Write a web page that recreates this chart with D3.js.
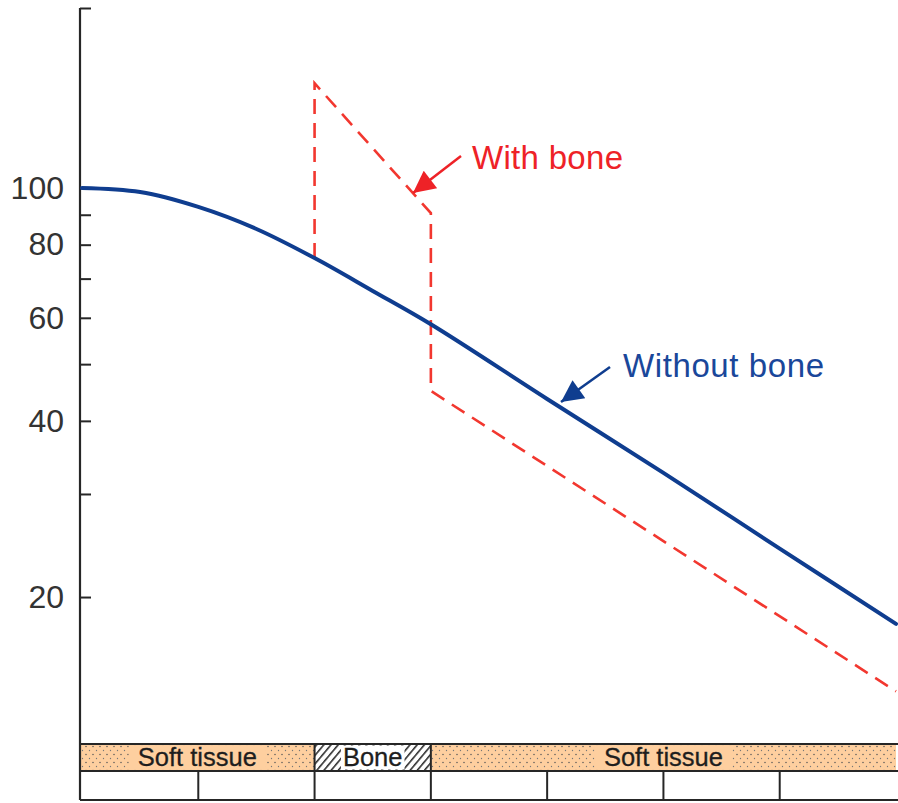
<!DOCTYPE html>
<html>
<head>
<meta charset="utf-8">
<script src="https://cdn.jsdelivr.net/npm/d3@7"></script>
<style>
  body { margin: 0; background: #fff; }
  text { font-family: "Liberation Sans", Arial, sans-serif; }
</style>
</head>
<body>
<script>
// depth in cm (x) and relative dose in % (y, log scale)
var depth = [0, 0.5, 1, 1.5, 2, 2.5, 3, 4, 5, 6, 7];
var withoutBone = [100, 98.4, 92.8, 85.1, 75.9, 66.7, 58.5, 43.6, 32.6, 24.2, 18.0];

// with bone: jumps up at the bone entry, drops at the exit
var boneDepth = [2, 2, 3, 3, 7];
var withBone = [75.9, 151, 90.6, 45.0, 13.8];

var majorTicks = [20, 40, 60, 80, 100];
var minorTicks = [30, 50, 70, 90];
var yTop = 203, yBottom = 9;

// tissue strip under the plot
var layers = [
  {from: 0, to: 2, name: "Soft tissue", type: "soft"},
  {from: 2, to: 3, name: "Bone", type: "bone"},
  {from: 3, to: 7, name: "Soft tissue", type: "soft"}
];
var cells = [0, 1, 2, 3, 4, 5, 6, 7];

var W = 898, H = 803;
var axisX = 80;
var blue = "#0f3d8f", red = "#f2372f";

var svg = d3.select("body").append("svg")
    .attr("width", W)
    .attr("height", H);

var x = d3.scaleLinear().domain([0, 7]).range([82, 896]);
var y = d3.scaleLog().domain([yBottom, yTop]).range([800, 8]);

var defs = svg.append("defs");

// dotted peach fill
var dots = defs.append("pattern")
    .attr("id", "dots")
    .attr("patternUnits", "userSpaceOnUse")
    .attr("width", 7).attr("height", 8);
dots.append("rect").attr("width", 7).attr("height", 8).attr("fill", "#fecf9f");
dots.append("circle").attr("cx", 2).attr("cy", 2.5).attr("r", 0.75).attr("fill", "#555");
dots.append("circle").attr("cx", 5.5).attr("cy", 6.5).attr("r", 0.65).attr("fill", "#777");

// hatch for bone
var hatch = defs.append("pattern")
    .attr("id", "hatch")
    .attr("patternUnits", "userSpaceOnUse")
    .attr("width", 5.5).attr("height", 5.5)
    .attr("patternTransform", "rotate(40)");
hatch.append("rect").attr("width", 5.5).attr("height", 5.5).attr("fill", "#fff");
hatch.append("line").attr("x1", 0.8).attr("y1", 0).attr("x2", 0.8).attr("y2", 5.5)
    .attr("stroke", "#222").attr("stroke-width", 1.5);

function arrowMarker(id, col) {
  defs.append("marker")
      .attr("id", id)
      .attr("viewBox", "0 0 10 10")
      .attr("refX", 10).attr("refY", 5)
      .attr("markerUnits", "userSpaceOnUse")
      .attr("markerWidth", 26).attr("markerHeight", 22)
      .attr("orient", "auto")
    .append("path").attr("d", "M0,0 L10,5 L0,10 Z").attr("fill", col);
}
arrowMarker("arrRed", "#ee2227");
arrowMarker("arrBlue", blue);

// tissue strip
var stripTop = 744, stripBot = 771, rowBot = 800;
var lineCol = "#262626";

var strip = svg.append("g");
strip.selectAll("rect.layer")
    .data(layers)
  .enter().append("rect")
    .attr("class", "layer")
    .attr("x", function(d) { return d.from === 0 ? axisX : x(d.from); })
    .attr("y", stripTop)
    .attr("width", function(d) { return x(d.to) - (d.from === 0 ? axisX : x(d.from)); })
    .attr("height", stripBot - stripTop)
    .attr("fill", function(d) { return d.type === "soft" ? "url(#dots)" : "url(#hatch)"; });

layers.forEach(function(d) {
  var cx = ((d.from === 0 ? axisX : x(d.from)) + x(d.to)) / 2;
  var bg = strip.append("rect");
  var t = strip.append("text")
      .attr("x", cx)
      .attr("y", stripTop + 22)
      .attr("text-anchor", "middle")
      .attr("font-size", 25.5)
      .attr("fill", "#1e1e1e")
      .attr("stroke", "#1e1e1e")
      .attr("stroke-width", 0.3)
      .text(d.name);
  var b = t.node().getBBox();
  var pad = d.type === "soft" ? 9 : 2;
  bg.attr("x", b.x - pad).attr("y", stripTop + 1.5)
    .attr("width", b.width + pad * 2).attr("height", stripBot - stripTop - 3)
    .attr("fill", d.type === "soft" ? "#fecf9f" : "#fff");
});

// bottom row of cells
strip.append("rect")
    .attr("x", axisX).attr("y", stripBot)
    .attr("width", W - axisX).attr("height", rowBot - stripBot)
    .attr("fill", "#fff");

[stripTop, stripBot, rowBot].forEach(function(yy) {
  strip.append("line")
      .attr("x1", axisX).attr("x2", W).attr("y1", yy).attr("y2", yy)
      .attr("stroke", lineCol).attr("stroke-width", 2);
});

strip.selectAll("line.cell")
    .data(cells.slice(1, 7))
  .enter().append("line")
    .attr("class", "cell")
    .attr("x1", function(d) { return x(d); })
    .attr("x2", function(d) { return x(d); })
    .attr("y1", stripBot).attr("y2", rowBot)
    .attr("stroke", lineCol).attr("stroke-width", 2);

strip.selectAll("line.bound")
    .data([2, 3])
  .enter().append("line")
    .attr("class", "bound")
    .attr("x1", function(d) { return x(d); })
    .attr("x2", function(d) { return x(d); })
    .attr("y1", stripTop).attr("y2", stripBot)
    .attr("stroke", lineCol).attr("stroke-width", 2);

// y axis, ticks pointing inward
var axisG = svg.append("g")
    .attr("transform", "translate(" + axisX + ",0)")
    .call(d3.axisLeft(y)
      .tickValues(majorTicks.concat(minorTicks).concat([yTop]))
      .tickSize(-11)
      .tickPadding(16)
      .tickFormat(function(d) { return majorTicks.indexOf(d) >= 0 ? d : ""; }));

axisG.select(".domain")
    .attr("d", "M0," + y(yTop) + "V" + rowBot)
    .attr("stroke", lineCol).attr("stroke-width", 2.2);
axisG.selectAll(".tick line").attr("stroke", lineCol).attr("stroke-width", 2);
axisG.selectAll(".tick text")
    .attr("font-size", 32)
    .attr("font-family", "'Liberation Sans', Arial, sans-serif")
    .attr("fill", "#333");

// curves
var blueLine = d3.line()
    .x(function(d, i) { return x(depth[i]); })
    .y(function(d) { return y(d); })
    .curve(d3.curveCatmullRom.alpha(0.5));

var redLine = d3.line()
    .x(function(d, i) { return x(boneDepth[i]); })
    .y(function(d) { return y(d); });

svg.append("path")
    .datum(withBone)
    .attr("fill", "none")
    .attr("stroke", red)
    .attr("stroke-width", 2.6)
    .attr("stroke-dasharray", "15,9")
    .attr("d", redLine);

svg.append("path")
    .datum(withoutBone)
    .attr("fill", "none")
    .attr("stroke", blue)
    .attr("stroke-width", 4)
    .attr("stroke-linecap", "round")
    .attr("d", blueLine);

// labels with arrows
svg.append("line")
    .attr("x1", 461).attr("y1", 156)
    .attr("x2", 413).attr("y2", 193)
    .attr("stroke", "#ee2227").attr("stroke-width", 2.5)
    .attr("marker-end", "url(#arrRed)");
svg.append("text")
    .attr("x", 472).attr("y", 169)
    .attr("font-size", 33)
    .attr("letter-spacing", 0.3)
    .attr("fill", "#ee2227")
    .text("With bone");

svg.append("line")
    .attr("x1", 610).attr("y1", 367)
    .attr("x2", 561).attr("y2", 402)
    .attr("stroke", blue).attr("stroke-width", 2.5)
    .attr("marker-end", "url(#arrBlue)");
svg.append("text")
    .attr("x", 623).attr("y", 377)
    .attr("font-size", 33)
    .attr("letter-spacing", 0.6)
    .attr("fill", "#1a479a")
    .text("Without bone");
</script>
</body>
</html>
